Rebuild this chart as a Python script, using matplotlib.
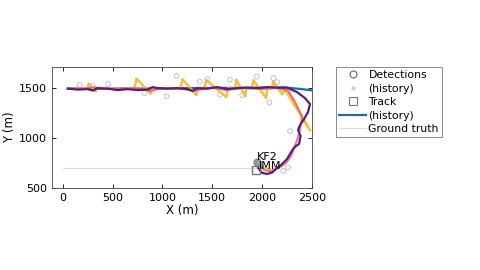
import matplotlib
matplotlib.use("Agg")
import matplotlib.pyplot as plt
from matplotlib.lines import Line2D

# Ground truth (faint)
gt_x = [0, 1950]
gt_y = [700, 700]

# Track history (teal)
trk_x = [50, 600, 1200, 1800, 2250, 2400, 2550]
trk_y = [1495, 1492, 1500, 1503, 1505, 1490, 1470]

# Purple track
pu_x = [50, 150, 250, 300, 350, 450, 550, 650, 750, 850, 900, 950, 1050, 1150, 1250, 1300,
        1350, 1450, 1550, 1650, 1750, 1850, 1950, 2050, 2150, 2250, 2350, 2430, 2480, 2460,
        2420, 2380, 2360, 2385, 2370, 2340, 2310, 2280, 2250, 2220, 2190, 2150, 2100, 2050,
        2000, 1960]
pu_y = [1495, 1485, 1490, 1475, 1500, 1495, 1480, 1490, 1480, 1485, 1510, 1500, 1495, 1500,
        1490, 1470, 1500, 1495, 1510, 1490, 1500, 1505, 1500, 1510, 1505, 1505, 1460, 1400,
        1340, 1260, 1190, 1130, 1080, 1020, 940, 920, 890, 840, 790, 760, 730, 700, 655,
        640, 650, 700]

# Pink track
pk_x = [60, 200, 320, 420, 600, 800, 880, 1000, 1200, 1330, 1500, 1640, 1800, 2000, 2150,
        2250, 2320, 2400, 2380, 2350, 2320, 2290, 2250, 2200, 2140, 2080, 2020, 1970]
pk_y = [1500, 1495, 1510, 1490, 1500, 1495, 1470, 1500, 1490, 1475, 1505, 1480, 1500, 1490,
        1500, 1480, 1380, 1220, 1080, 980, 900, 820, 760, 720, 690, 665, 680, 730]

# Yellow track (sawtooth)
ye_x = [60, 250, 260, 330, 340, 720, 740, 880, 900, 1180, 1200, 1340, 1350, 1420, 1440,
        1640, 1660, 1730, 1740, 1830, 1840, 1900, 1910, 2040, 2050, 2100, 2110, 2200, 2250,
        2330, 2400, 2480]
ye_y = [1500, 1500, 1545, 1465, 1500, 1500, 1595, 1445, 1500, 1500, 1590, 1430, 1500, 1500,
        1580, 1410, 1500, 1500, 1585, 1420, 1500, 1500, 1580, 1400, 1500, 1500, 1565, 1440,
        1500, 1340, 1200, 1080]
ye2_x = [2230, 2300, 2380, 2450]
ye2_y = [1480, 1360, 1250, 1130]
ye3_x = [1960, 2020, 2080]
ye3_y = [740, 700, 680]

# Detection history (circles)
det_x = [170, 455, 1141, 1041, 1375, 1576, 1677, 1945, 2072, 2112, 2206, 2280, 2212, 2260,
         300, 820, 1450, 1800, 2150]
det_y = [1533, 1543, 1622, 1417, 1566, 1433, 1583, 1616, 1357, 1600, 1500, 1069, 671, 707,
         1520, 1450, 1590, 1430, 1560]

labels = ["KF2", "IMM"]
label_x = [1950, 1965]
label_y = [780, 690]

fig = plt.figure(figsize=(4.8, 2.7), dpi=100)
ax = fig.add_axes([0.108, 0.304, 0.542, 0.448])

ax.plot(gt_x, gt_y, color="#dddddd", lw=0.8, zorder=1)
ax.plot(trk_x, trk_y, color="#1f6e9c", lw=1.6, zorder=2)
ax.scatter(det_x, det_y, s=12, facecolors="none", edgecolors="#b8bccc", lw=0.6, zorder=2)
ax.plot(ye_x, ye_y, color="#f2b420", lw=1.8, alpha=0.85, zorder=3)
ax.plot(ye2_x, ye2_y, color="#f2b420", lw=1.8, alpha=0.7, zorder=3)
ax.plot(ye3_x, ye3_y, color="#f2b420", lw=1.8, alpha=0.85, zorder=3)
ax.plot(pk_x, pk_y, color="#e0607a", lw=1.4, alpha=0.85, zorder=4)
ax.plot(pu_x, pu_y, color="#5b1e77", lw=1.6, zorder=5)

ax.plot([1950], [760], marker="o", ms=5, color="#888888", mfc="#999999", zorder=6)
ax.plot([1940], [675], marker="s", ms=6, mfc="none", mec="#777777", zorder=6)
for t, x, y in zip(labels, label_x, label_y):
    ax.text(x, y, t, fontsize=8, color="black", zorder=7)

ax.set_xlim(-110, 2500)
ax.set_ylim(500, 1712)
ax.set_xticks([0, 500, 1000, 1500, 2000, 2500])
ax.set_yticks([500, 1000, 1500])
ax.tick_params(direction="in", top=True, right=True, labelsize=8, length=3, width=0.6)
for s in ax.spines.values():
    s.set_linewidth(0.6)
    s.set_color("#444444")
ax.set_xlabel("X (m)", fontsize=8.5, labelpad=1)
ax.set_ylabel("Y (m)", fontsize=8.5, labelpad=2)

handles = [
    Line2D([], [], ls="none", marker="o", ms=5, mfc="none", mec="#666666", mew=0.8),
    Line2D([], [], ls="none", marker=".", ms=4, color="#cccccc"),
    Line2D([], [], ls="none", marker="s", ms=6, mfc="none", mec="#777777", mew=0.8),
    Line2D([], [], color="#1f6e9c", lw=1.6),
    Line2D([], [], color="#dddddd", lw=0.8),
]
names = ["Detections", "(history)", "Track", "(history)", "Ground truth"]
leg = fig.legend(handles, names, loc="upper left", bbox_to_anchor=(0.70, 0.752),
                 fontsize=7.8, frameon=True, fancybox=False, labelspacing=0.32,
                 handlelength=2.5, handletextpad=0.2, borderpad=0.3, borderaxespad=0)
leg.get_frame().set_edgecolor("#555555")
leg.get_frame().set_linewidth(0.6)

fig.savefig("out.png", dpi=100)
